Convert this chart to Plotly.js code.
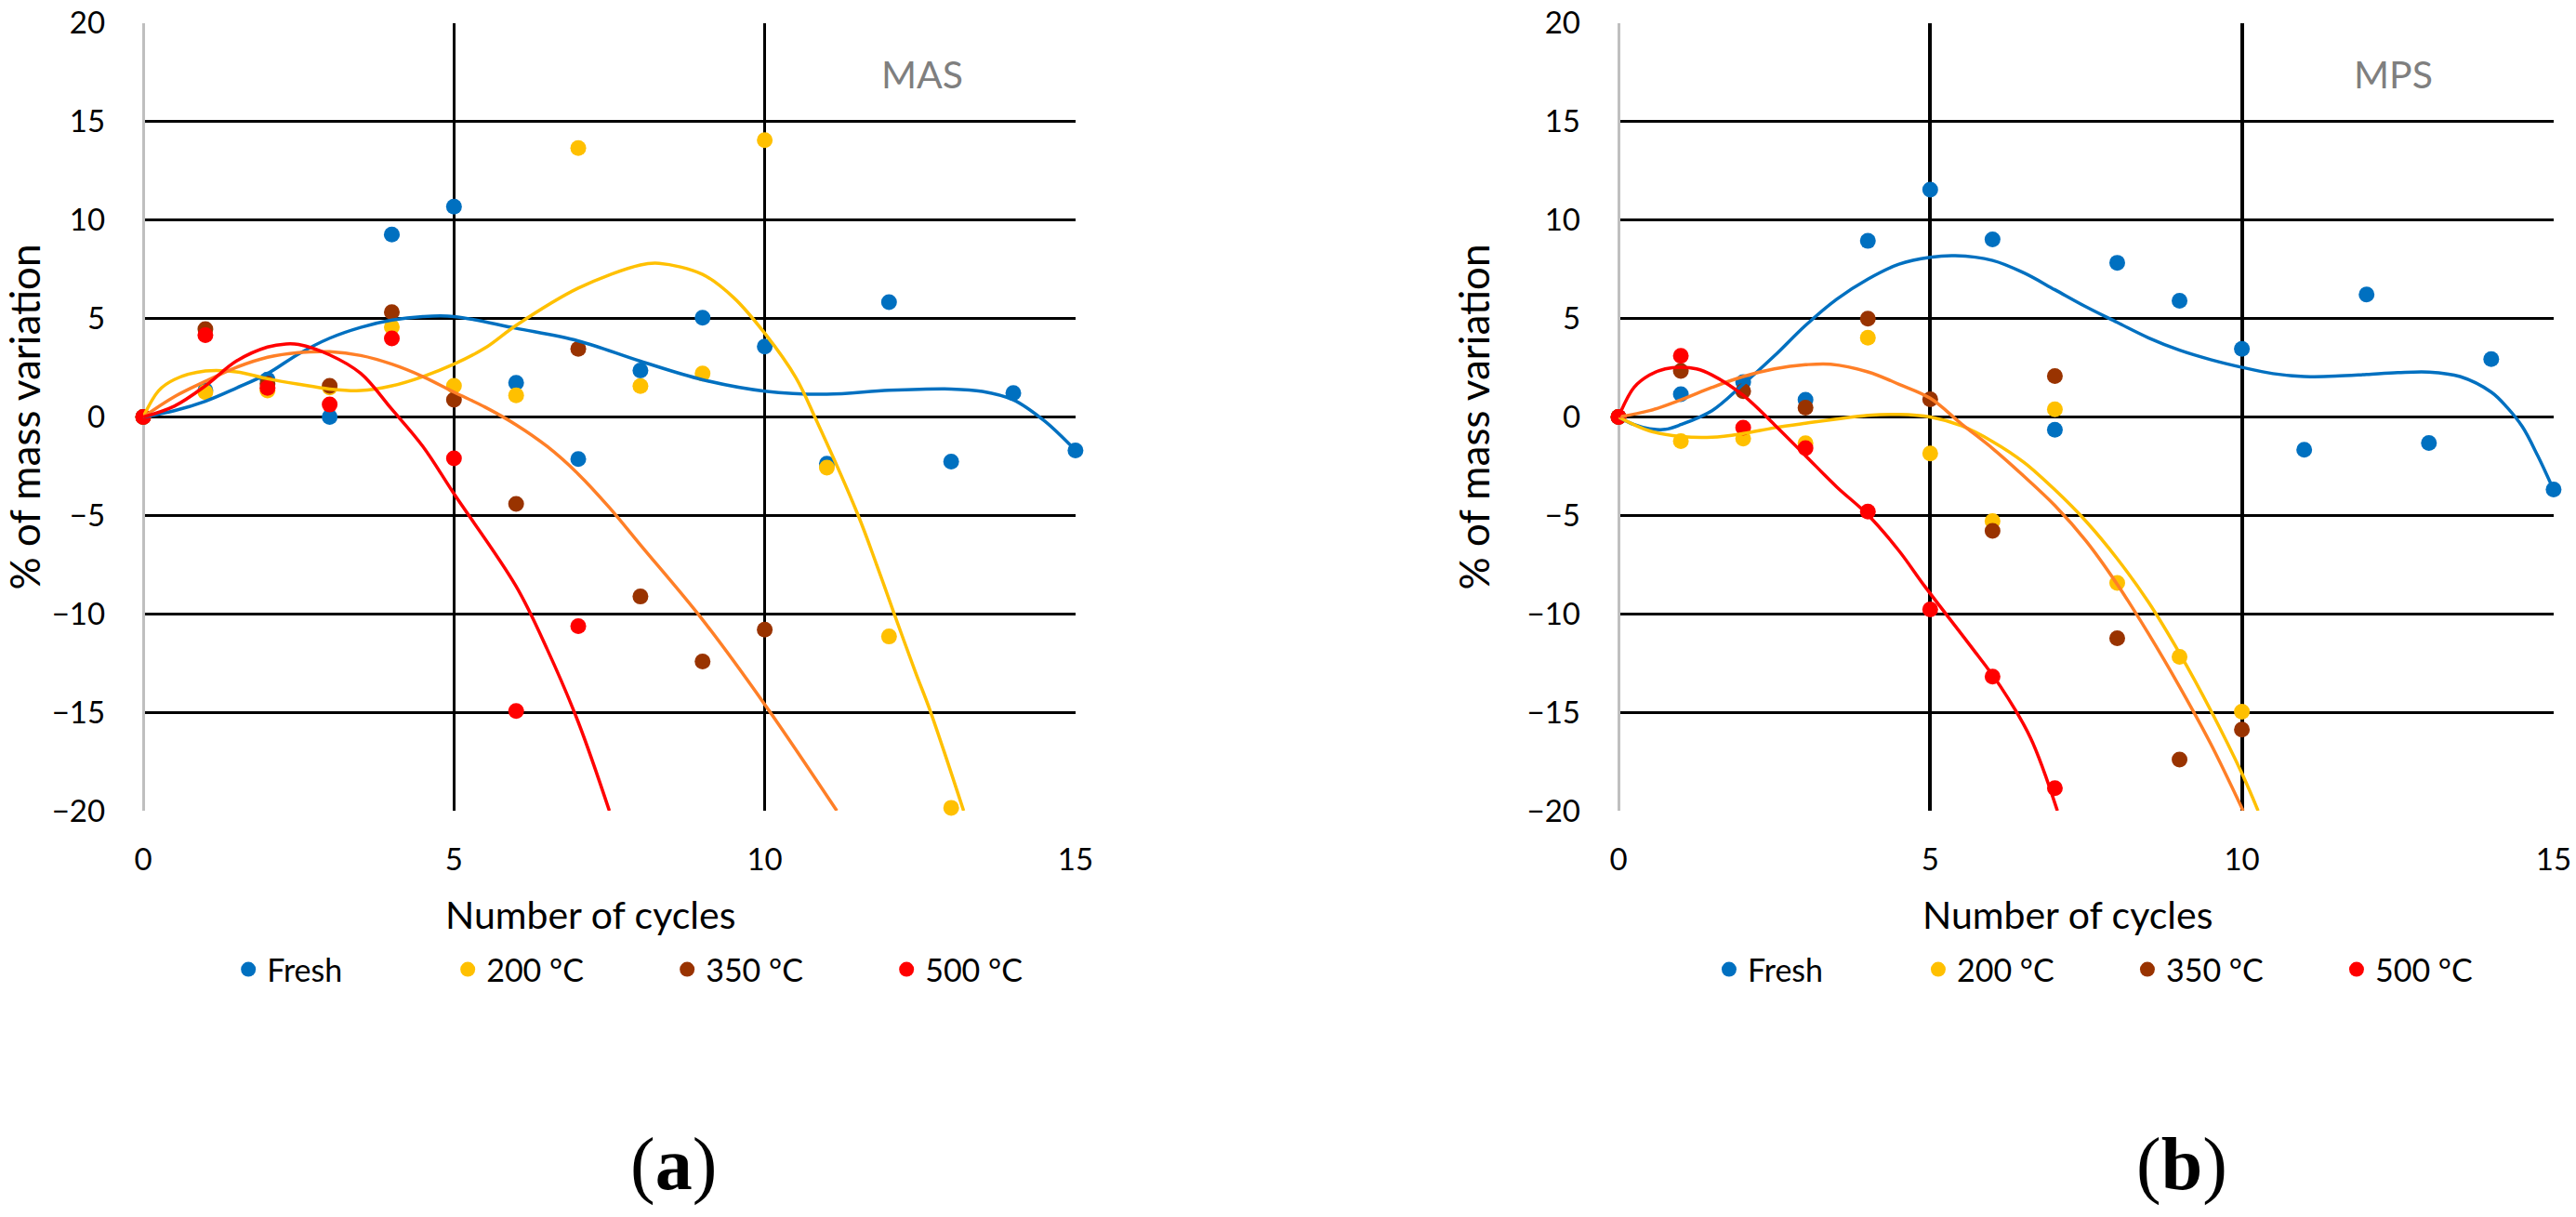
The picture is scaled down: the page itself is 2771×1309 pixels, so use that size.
<!DOCTYPE html>
<html>
<head>
<meta charset="utf-8">
<script src="https://cdn.plot.ly/plotly-3.0.1.min.js"></script>
<style>
  html, body { margin: 0; padding: 0; background: #fff; overflow: hidden; }
  #chart { width: 2771px; height: 1309px; overflow: hidden; }
</style>
</head>
<body>
<div id="chart"></div>
<script>
// ── Data: measured points (% of mass variation per cycle) ─────────────────────
const seriesNames = ['Fresh', '200 °C', '350 °C', '500 °C'];

const masCycFresh = [0, 1, 2, 3, 4, 5, 6, 7, 8, 9, 10, 11, 12, 13, 14, 15];
const masFresh    = [0, 1.35, 1.9, 0, 9.26, 10.68, 1.73, -2.14, 2.36, 5.04, 3.57, -2.38, 5.83, -2.27, 1.21, -1.7];
const masCyc200   = [0, 1, 2, 3, 4, 5, 6, 7, 8, 9, 10, 11, 12, 13];
const mas200      = [0, 1.26, 1.34, 1.5, 4.57, 1.58, 1.1, 13.65, 1.57, 2.2, 14.06, -2.58, -11.15, -19.85];
const masCyc350   = [0, 1, 2, 3, 4, 5, 6, 7, 8, 9, 10];
const mas350      = [0, 4.46, 1.69, 1.58, 5.32, 0.87, -4.42, 3.46, -9.12, -12.42, -10.8];
const masCyc500   = [0, 1, 2, 3, 4, 5, 6, 7];
const mas500      = [0, 4.15, 1.47, 0.63, 3.99, -2.1, -14.93, -10.63];

const mpsCycFresh = [0, 1, 2, 3, 4, 5, 6, 7, 8, 9, 10, 11, 12, 13, 14, 15];
const mpsFresh    = [0, 1.15, 1.77, 0.87, 8.94, 11.54, 9.02, -0.65, 7.83, 5.9, 3.46, -1.67, 6.22, -1.32, 2.94, -3.68];
const mpsCyc200   = [0, 1, 2, 3, 4, 5, 6, 7, 8, 9, 10];
const mps200      = [0, -1.23, -1.1, -1.34, 4.02, -1.85, -5.29, 0.39, -8.43, -12.18, -14.97];
const mpsCyc350   = [0, 1, 2, 3, 4, 5, 6, 7, 8, 9, 10];
const mps350      = [0, 2.33, 1.31, 0.47, 4.99, 0.9, -5.79, 2.08, -11.24, -17.4, -15.88];
const mpsCyc500   = [0, 1, 2, 3, 4, 5, 6, 7];
const mps500      = [0, 3.1, -0.55, -1.58, -4.81, -9.77, -13.19, -18.85];

// ── Data: trendlines ──────────────────────────────────────────────────────────
const masTrendFreshX = [0, 0.5, 1, 1.5, 2, 2.5, 3, 3.5, 4, 4.5, 5, 6, 7, 8, 9, 10, 11, 12, 13, 13.5, 14, 14.5, 15];
const masTrendFreshY = [0, 0.32, 0.8, 1.47, 2.2, 3.2, 4.0, 4.55, 4.92, 5.1, 5.1, 4.5, 3.86, 2.83, 1.89, 1.31, 1.15, 1.35, 1.42, 1.3, 0.87, -0.2, -1.7];
const masTrend200X   = [0, 0.25, 0.5, 1, 1.5, 2, 2.5, 3, 3.5, 4, 4.5, 5, 5.5, 6, 7, 8, 8.3, 9, 9.5, 10, 10.5, 10.82, 11.5, 11.8, 12.08, 12.43, 12.66, 13.2];
const masTrend200Y   = [0, 1.34, 1.9, 2.33, 2.29, 1.94, 1.66, 1.42, 1.34, 1.58, 2.05, 2.68, 3.5, 4.65, 6.54, 7.72, 7.8, 7.24, 6.06, 4.25, 2.0, -0.1, -4.97, -7.5, -9.97, -13.0, -14.9, -20];
const masTrend350X   = [0, 0.5, 1, 1.5, 2, 2.5, 3, 3.5, 4, 4.5, 5, 5.5, 6, 6.5, 7, 7.5, 8, 9, 10, 11.16];
const masTrend350Y   = [0, 1.03, 1.81, 2.52, 3.03, 3.27, 3.31, 3.12, 2.68, 2.05, 1.26, 0.5, -0.4, -1.5, -2.9, -4.6, -6.5, -10.3, -14.6, -20];
const masTrend500X   = [0, 0.5, 1, 1.5, 2, 2.3, 2.5, 3, 3.5, 4, 4.5, 5, 6, 6.5, 7, 7.5];
const masTrend500Y   = [0, 0.55, 1.58, 2.84, 3.55, 3.71, 3.68, 3.15, 2.21, 0.39, -1.5, -3.9, -8.6, -11.8, -15.5, -20];

const mpsTrendFreshX = [0, 0.25, 0.5, 0.75, 1, 1.5, 2, 2.5, 3, 3.5, 4, 4.5, 5, 5.4, 6, 6.5, 7, 7.5, 8, 8.5, 9, 9.5, 10, 10.5, 11, 11.5, 12, 12.5, 13, 13.5, 14, 14.25, 14.5, 14.75, 15];
const mpsTrendFreshY = [0, -0.39, -0.6, -0.63, -0.39, 0.32, 1.66, 3.1, 4.65, 5.98, 7.0, 7.76, 8.11, 8.19, 7.95, 7.32, 6.46, 5.59, 4.8, 4.02, 3.39, 2.91, 2.52, 2.2, 2.05, 2.08, 2.16, 2.25, 2.28, 2.05, 1.26, 0.5, -0.5, -2.0, -3.7];
const mpsTrend200X   = [0, 0.5, 1, 1.5, 2, 2.5, 3, 3.5, 4, 4.5, 5, 5.5, 6, 6.5, 7, 7.5, 8, 8.5, 9, 9.5, 10, 10.26];
const mpsTrend200Y   = [0, -0.71, -0.99, -1.03, -0.84, -0.55, -0.32, -0.11, 0.08, 0.13, 0, -0.45, -1.25, -2.3, -3.7, -5.3, -7.2, -9.4, -12.0, -14.9, -18.1, -20];
const mpsTrend350X   = [0, 0.5, 1, 1.5, 2, 2.5, 3, 3.4, 4, 4.5, 5, 5.5, 6, 6.5, 7, 7.5, 8, 8.5, 9, 9.5, 10.02];
const mpsTrend350Y   = [0, 0.32, 0.87, 1.5, 2.05, 2.44, 2.65, 2.68, 2.29, 1.66, 0.95, -0.35, -1.6, -3.0, -4.5, -6.3, -8.5, -11.0, -13.7, -16.6, -20];
const mpsTrend500X   = [0, 0.25, 0.5, 0.75, 1, 1.25, 1.5, 2, 2.5, 3, 3.5, 4, 4.5, 4.91, 5.64, 6.13, 6.61, 7.04];
const mpsTrend500Y   = [0, 1.5, 2.13, 2.44, 2.52, 2.44, 2.13, 1.1, -0.39, -1.97, -3.55, -4.97, -6.8, -8.59, -11.6, -13.7, -16.3, -20];

const xTickVals = [0, 5, 10, 15];
const yTickVals = [-20, -15, -10, -5, 0, 5, 10, 15, 20];

// ── Styling ───────────────────────────────────────────────────────────────────
const markerColors = ['#0070C0', '#FFC000', '#993300', '#FF0000'];
const trendColors  = ['#0070C0', '#FFC000', '#FF7F27', '#FF0000'];
const FONT = 'Lato, "Open Sans", sans-serif';
const TICK_FONT   = { family: FONT, size: 33, color: '#000' };
const XTITLE_FONT = { family: FONT, size: 41, color: '#000' };
const YTITLE_FONT = { family: FONT, size: 44, color: '#000' };

function pointsTrace(x, y, i, xa, ya, legend) {
  return {
    type: 'scatter', mode: 'markers', x, y,
    xaxis: xa, yaxis: ya,
    name: seriesNames[i], legend,
    marker: { color: markerColors[i], size: 17 },
    cliponaxis: false,
    hoverinfo: 'x+y+name',
  };
}

function trendTrace(x, y, i, xa, ya) {
  return {
    type: 'scatter', mode: 'lines', x, y,
    xaxis: xa, yaxis: ya,
    line: { color: trendColors[i], width: 3.5, shape: 'spline', smoothing: 1 },
    showlegend: false, hoverinfo: 'skip',
  };
}

function xAxis(domain, anchor, gridwidth) {
  return {
    domain, anchor, range: [0, 15],
    tickmode: 'array', tickvals: xTickVals,
    showgrid: true, gridcolor: '#000', gridwidth,
    zeroline: true, zerolinecolor: '#BFBFBF', zerolinewidth: 3,
    showline: false, ticks: '', tickfont: TICK_FONT,
    ticklabelstandoff: 30, automargin: false, fixedrange: true,
  };
}

function yAxis(anchor) {
  return {
    domain: [0.3338, 0.981], anchor, range: [-20, 20],
    tickmode: 'array', tickvals: yTickVals,
    showgrid: true, gridcolor: '#000', gridwidth: 3,
    zeroline: false, showline: false, ticks: '', tickfont: TICK_FONT,
    ticklabelstandoff: 40, automargin: false, fixedrange: true,
    title: { text: '% of mass variation', font: YTITLE_FONT, standoff: 26 },
  };
}

// Horizontal legend below each panel; entrywidth keeps the four items evenly spaced.
// The right one is a little tighter so the legend box stays inside the page.
function legendAt(x, entrywidth) {
  return {
    orientation: 'h', x, xanchor: 'left', y: 0.2032, yanchor: 'middle',
    font: { family: FONT, size: 34, color: '#000' },
    entrywidth, entrywidthmode: 'pixels',
    bgcolor: 'rgba(0,0,0,0)', traceorder: 'normal',
  };
}

// ── Traces ────────────────────────────────────────────────────────────────────
const traces = [
  pointsTrace(masCycFresh, masFresh, 0, 'x', 'y', 'legend'),
  pointsTrace(masCyc200,   mas200,   1, 'x', 'y', 'legend'),
  pointsTrace(masCyc350,   mas350,   2, 'x', 'y', 'legend'),
  pointsTrace(masCyc500,   mas500,   3, 'x', 'y', 'legend'),
  trendTrace(masTrendFreshX, masTrendFreshY, 0, 'x', 'y'),
  trendTrace(masTrend200X,   masTrend200Y,   1, 'x', 'y'),
  trendTrace(masTrend350X,   masTrend350Y,   2, 'x', 'y'),
  trendTrace(masTrend500X,   masTrend500Y,   3, 'x', 'y'),

  pointsTrace(mpsCycFresh, mpsFresh, 0, 'x2', 'y2', 'legend2'),
  pointsTrace(mpsCyc200,   mps200,   1, 'x2', 'y2', 'legend2'),
  pointsTrace(mpsCyc350,   mps350,   2, 'x2', 'y2', 'legend2'),
  pointsTrace(mpsCyc500,   mps500,   3, 'x2', 'y2', 'legend2'),
  trendTrace(mpsTrendFreshX, mpsTrendFreshY, 0, 'x2', 'y2'),
  trendTrace(mpsTrend200X,   mpsTrend200Y,   1, 'x2', 'y2'),
  trendTrace(mpsTrend350X,   mpsTrend350Y,   2, 'x2', 'y2'),
  trendTrace(mpsTrend500X,   mpsTrend500Y,   3, 'x2', 'y2'),
];

// ── Layout ────────────────────────────────────────────────────────────────────
const panelFont = { family: '"Liberation Serif", "DejaVu Serif", serif', size: 80, color: '#000' };
const tagFont   = { family: FONT, size: 41, color: '#7F7F7F' };

function note(text, xref, yref, x, y, font) {
  return { text, xref, yref, x, y, xanchor: 'center', yanchor: 'middle', showarrow: false, font };
}

const layout = {
  width: 2771, height: 1309,
  margin: { l: 0, r: 0, t: 0, b: 0 },
  paper_bgcolor: '#fff', plot_bgcolor: '#fff',
  showlegend: true,
  xaxis:  xAxis([0.0556, 0.4175], 'y', 3),
  yaxis:  yAxis('x'),
  xaxis2: xAxis([0.6283, 0.9913], 'y2', 4),
  yaxis2: yAxis('x2'),
  legend:  legendAt(0.0892, 191),
  legend2: legendAt(0.6640, 180),
  annotations: [
    // x titles sit slightly left of the plot centre, as in the source figure
    note('Number of cycles', 'x domain',  'paper', 0.4796, 0.2483, XTITLE_FONT),
    note('Number of cycles', 'x2 domain', 'paper', 0.480,  0.2483, XTITLE_FONT),
    note('MAS', 'x domain',  'y domain',  0.8355, 0.936, tagFont),
    note('MPS', 'x2 domain', 'y2 domain', 0.829,  0.936, tagFont),
    note('(<b>a</b>)', 'paper', 'paper', 0.2613, 0.0428, panelFont),
    note('(<b>b</b>)', 'paper', 'paper', 0.847,  0.0428, panelFont),
  ],
};

Plotly.newPlot('chart', traces, layout, { displayModeBar: false, staticPlot: true });
</script>
</body>
</html>
